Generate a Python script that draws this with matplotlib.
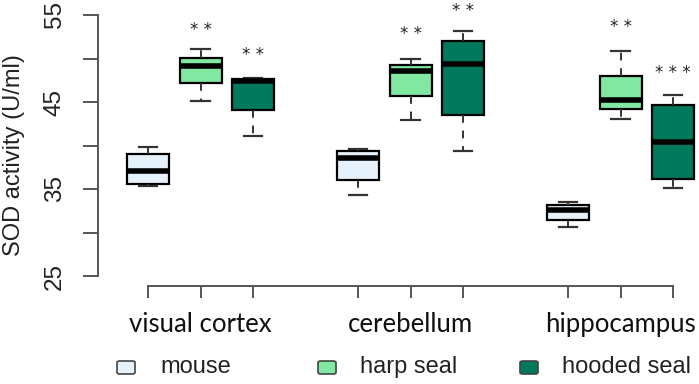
import matplotlib
matplotlib.use("Agg")
import matplotlib.pyplot as plt
from matplotlib.patches import FancyBboxPatch

# box statistics: (whislo, q1, med, q3, whishi)
regions = ["visual cortex", "cerebellum", "hippocampus"]
species = ["mouse", "harp seal", "hooded seal"]

mouse = [(35.33, 35.60, 37.03, 39.06, 39.83),
         (34.26, 35.99, 38.53, 39.33, 39.56),
         (30.61, 31.46, 32.54, 33.15, 33.49)]
harp_seal = [(45.13, 47.13, 49.16, 50.08, 51.05),
             (42.98, 45.70, 48.55, 49.20, 49.89),
             (43.02, 44.14, 45.21, 48.01, 50.89)]
hooded_seal = [(41.14, 44.06, 47.40, 47.70, 47.80),
               (39.37, 43.51, 49.32, 51.97, 53.16),
               (35.10, 36.11, 40.37, 44.67, 45.82)]

# significance marks (label, y of the star centres)
harp_stars = [("* *", 53.85), ("* *", 53.35), ("* *", 54.23)]
hooded_stars = [("* *", 50.97), ("* *", 56.0), ("* * *", 48.93)]

yticks = [25, 30, 35, 40, 45, 50, 55]
ytick_labels = ["25", "", "35", "", "45", "", "55"]

colors = ["#e6f2fb", "#80e8a0", "#00795c"]
axis_col = "#555555"

fig = plt.figure(figsize=(6.99, 3.84), dpi=100)
W, H = 699.0, 384.0
# axes in pixel terms: x 90..699, y 0..300 (from top)
ax = fig.add_axes([90 / W, (H - 300) / H, 609 / W, 300 / H])

px_per_unit = 8.7
ax.set_ylim(55 - 285 / px_per_unit, 55 + 15 / px_per_unit)
ax.set_xlim(1 + (90 - 148) / 52.5, 1 + (699 - 148) / 52.5)

all_series = [mouse, harp_seal, hooded_seal]
all_stars = [None, harp_stars, hooded_stars]
star_drop = 10 / px_per_unit  # asterisk glyph sits ~10px above baseline
for s, series in enumerate(all_series):
    stats = []
    positions = []
    for g, (lo, q1, med, q3, hi) in enumerate(series):
        stats.append(dict(whislo=lo, q1=q1, med=med, q3=q3, whishi=hi, fliers=[]))
        positions.append(1 + 4 * g + s)
    bp = ax.bxp(stats, positions=positions, widths=0.8, capwidths=0.36,
                patch_artist=True, showfliers=False,
                boxprops=dict(facecolor=colors[s], edgecolor="black", linewidth=1.6),
                medianprops=dict(color="black", linewidth=4, solid_capstyle="butt"),
                whiskerprops=dict(color="#333333", linewidth=1.4, linestyle=(0, (4, 4))),
                capprops=dict(color="#333333", linewidth=1.6))
    if all_stars[s]:
        for pos, (lab, y) in zip(positions, all_stars[s]):
            ax.text(pos, y - star_drop, lab, ha="center", va="baseline", fontsize=12,
                    color="#222222", clip_on=False)

for side in ["top", "right"]:
    ax.spines[side].set_visible(False)
ax.spines["left"].set_position(("data", 1 + (98 - 148) / 52.5))
ax.spines["left"].set_bounds(25, 55)
ax.spines["bottom"].set_position(("data", 55 - 271 / px_per_unit))
ax.spines["bottom"].set_bounds(1, 11)
for side in ["left", "bottom"]:
    ax.spines[side].set_color(axis_col)
    ax.spines[side].set_linewidth(1.4)

ax.set_yticks(yticks)
ax.set_yticklabels(ytick_labels, rotation=90, va="center", ha="center",
                   fontsize=17.5, family="Liberation Sans", color="#222222")
ax.tick_params(axis="y", length=11, width=1.4, color=axis_col, pad=20)

ax.xaxis.remove_overlapping_locs = False
ax.set_xticks([1, 2, 3, 5, 6, 7, 9, 10, 11])
ax.set_xticklabels([])
ax.tick_params(axis="x", which="major", length=8.6, width=1.4, color=axis_col)
ax.set_xticks([2, 6, 10], minor=True)
ax.set_xticklabels(regions, minor=True, fontsize=18.5, family="Lato", color="#111111")
ax.tick_params(axis="x", which="minor", length=0, pad=19)

ax.set_ylabel("SOD activity (U/ml)", fontsize=17, family="Liberation Sans",
              color="#222222")
ax.yaxis.set_label_coords((25 - 90) / 609, 0.5 - 5 / 300)

# legend
legend_x = [(117, 160), (318, 360), (520, 562)]
for (bx, tx), name, col in zip(legend_x, species, colors):
    sq = FancyBboxPatch((bx / W, (H - 374) / H), 18 / W, 13 / H,
                        boxstyle="round,pad=0,rounding_size=0.004",
                        transform=fig.transFigure, facecolor=col,
                        edgecolor="#444444", linewidth=1.2)
    fig.add_artist(sq)
    fig.text(tx / W, (H - 367) / H, name, ha="left", va="center", fontsize=17,
             family="Liberation Sans", color="#222222")

fig.savefig("out.png", dpi=100)
